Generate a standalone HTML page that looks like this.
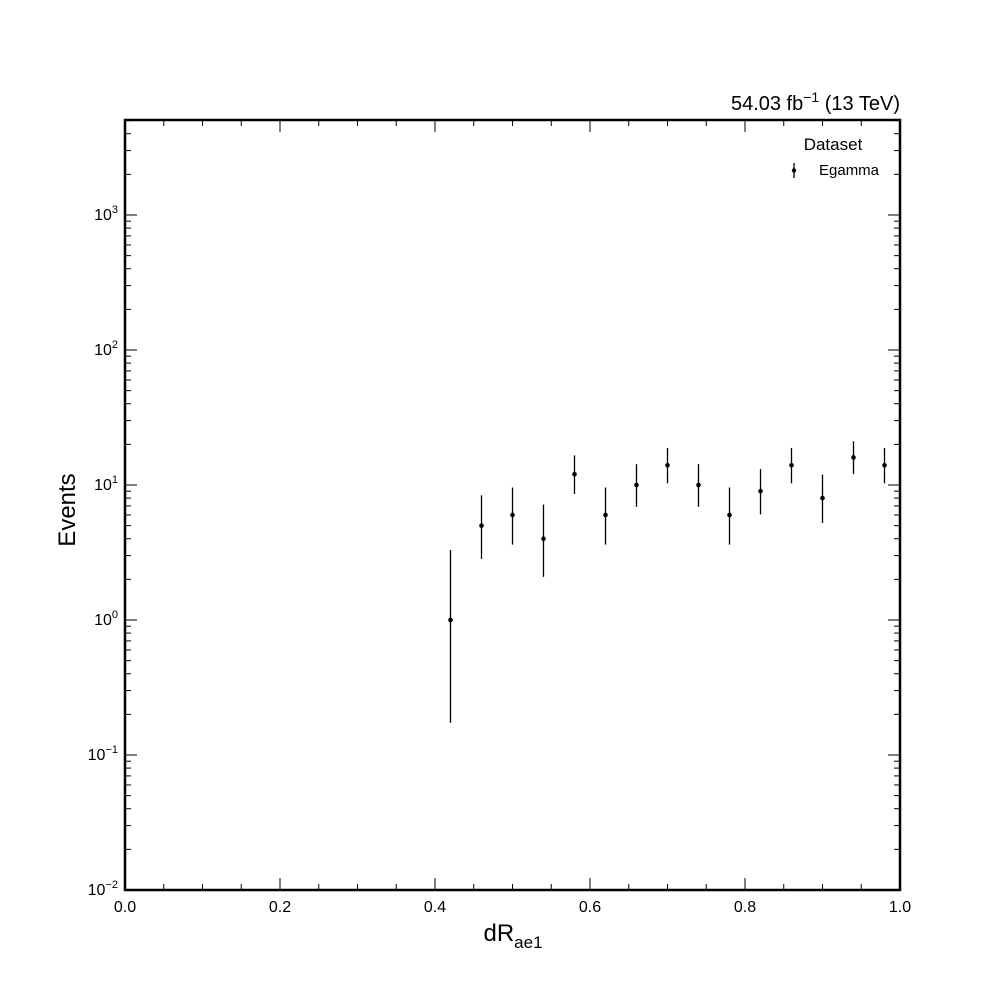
<!DOCTYPE html>
<html><head><meta charset="utf-8"><style>
body{margin:0;background:#fff;}
svg text{font-family:"Liberation Sans","DejaVu Sans",sans-serif;fill:#000;}
</style></head><body>
<svg id="chart" width="1000" height="1000" xmlns="http://www.w3.org/2000/svg">
<rect width="1000" height="1000" fill="#fff"/>
<g id="ticks"></g>
<g id="pts"></g>
<rect x="125" y="120" width="775" height="770" fill="none" stroke="#000" stroke-width="2.5"/>
<text x="900" y="110" font-size="20" text-anchor="end">54.03 fb<tspan dy="-8" font-size="14">−1</tspan><tspan dy="8"> (13 TeV)</tspan></text>
<text x="513" y="941" font-size="24" text-anchor="middle">dR<tspan dy="7" font-size="17">ae1</tspan></text>
<text x="75" y="510" font-size="24" text-anchor="middle" transform="rotate(-90 75 510)">Events</text>
<text x="833" y="150" font-size="17" text-anchor="middle">Dataset</text>
<g>
<line x1="794" y1="163" x2="794" y2="178" stroke="#000" stroke-width="1.3"/>
<circle cx="794" cy="170.5" r="2.2" fill="#000"/>
<text x="819" y="175" font-size="15">Egamma</text>
</g>
</svg>
<script>
const xCenters=[0.42,0.46,0.50,0.54,0.58,0.62,0.66,0.70,0.74,0.78,0.82,0.86,0.90,0.94,0.98];
const counts=[1,5,6,4,12,6,10,14,10,6,9,14,8,16,14];
const lowerBound=[0.173,2.840,3.620,2.086,8.58,3.620,6.891,10.30,6.891,3.620,6.057,10.30,5.232,12.04,10.30];
const upperBound=[3.300,8.382,9.584,7.163,16.57,9.584,14.27,18.83,14.27,9.584,13.11,18.83,11.95,21.08,18.83];
const xTicks=[0,0.2,0.4,0.6,0.8,1.0];
const xTickLabels=["0.0","0.2","0.4","0.6","0.8","1.0"];
const yDecades=[-2,-1,0,1,2,3];
const X0=125,X1=900,Y0=890,Y1=120,YMIN=-2,YMAX=3.7037;
const xs=v=>X0+(v-0)/(1-0)*(X1-X0);
const ys=v=>Y0-(Math.log10(v)-YMIN)/(YMAX-YMIN)*(Y0-Y1);
const NS="http://www.w3.org/2000/svg";
function mk(tag,attrs,parent,txt){const e=document.createElementNS(NS,tag);for(const k in attrs)e.setAttribute(k,attrs[k]);if(txt!==undefined)e.textContent=txt;parent.appendChild(e);return e;}
const tg=document.getElementById('ticks');
for(let i=0;i<=20;i++){const v=i*0.05;const x=xs(v);const major=i%4===0;const L=major?12:6;
 mk('line',{x1:x,y1:Y0,x2:x,y2:Y0-L,stroke:'#000','stroke-width':1},tg);
 mk('line',{x1:x,y1:Y1,x2:x,y2:Y1+L,stroke:'#000','stroke-width':1},tg);}
xTicks.forEach((v,i)=>{const t=mk('text',{x:xs(v),y:912,'font-size':16,'text-anchor':'middle'},tg,xTickLabels[i]);
 
 });
for(let d=-2;d<=3;d++){for(let m=1;m<=9;m++){const v=m*Math.pow(10,d);const y=ys(v);if(y<Y1)continue;const L=m===1?12:6;
 mk('line',{x1:X0,y1:y,x2:X0+L,y2:y,stroke:'#000','stroke-width':1},tg);
 mk('line',{x1:X1,y1:y,x2:X1-L,y2:y,stroke:'#000','stroke-width':1},tg);}}
yDecades.forEach(d=>{const t=mk('text',{x:118,y:ys(Math.pow(10,d))+5,'font-size':16,'text-anchor':'end'},tg);
 
 
 t.textContent='10';mk('tspan',{dy:-7,'font-size':11},t,String(d).replace('-','−'));});
const pg=document.getElementById('pts');
xCenters.forEach((xc,i)=>{const g=mk('g',{},pg);
 
 
 const x=xs(xc);
 mk('line',{x1:x,y1:ys(lowerBound[i]),x2:x,y2:ys(upperBound[i]),stroke:'#000','stroke-width':1.3},g);
 mk('circle',{cx:x,cy:ys(counts[i]),r:2.3,fill:'#000'},g);});
</script>
</body></html>
